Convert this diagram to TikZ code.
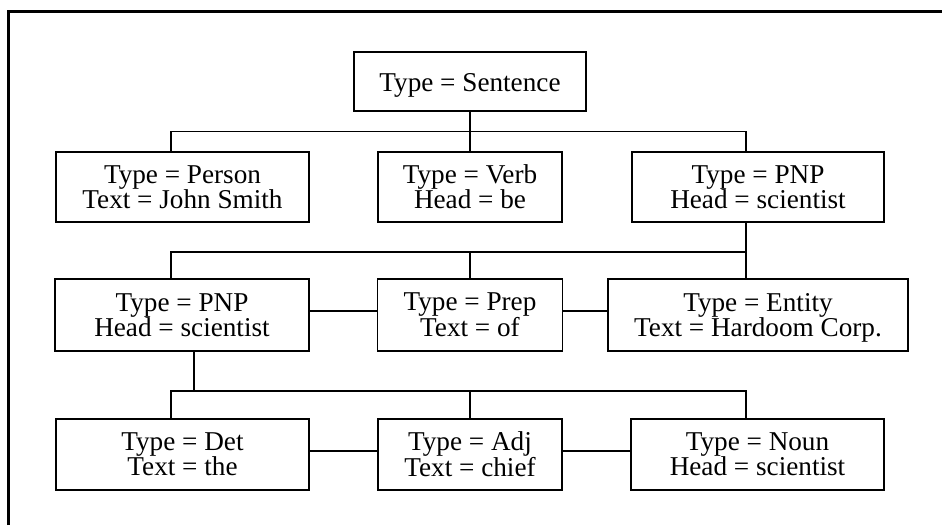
\documentclass[tikz,border=0pt]{standalone}
\usepackage{fontspec}
\setmainfont{Liberation Serif}
\usetikzlibrary{calc}

\begin{document}
\begin{tikzpicture}[x=1pt,y=-1pt,
  box/.style={draw, line width=1.8pt, rectangle, inner sep=0pt, align=center,
    text depth=0pt, font=\fontsize{27.2}{25}\selectfont},
  link/.style={line width=1.5pt},
  frame/.style={line width=2.6pt}]

\useasboundingbox (0,0) rectangle (942,525);

% partial outer frame (top and left edges)
\draw[frame] (8.7,525) -- (8.7,11.2) -- (942,11.2);

% root
\node[box, minimum width=232, minimum height=59] (S) at (470,81.5) {\raisebox{-2pt}{Type = Sentence}};

% second row
\node[box, minimum width=253, minimum height=70] (person) at (182.5,187) {Type = Person\\Text = John Smith};
\node[box, minimum width=184, minimum height=70] (verb) at (470,187) {Type = Verb\\Head = be};
\node[box, minimum width=252, minimum height=70] (pnpA) at (758,187) {Type = PNP\\Head = scientist};

% third row
\node[box, minimum width=254, minimum height=72] (pnpB) at (182,315) {Type = PNP\\Head = scientist};
\node[box, minimum width=185, minimum height=72] (prep) at (470,315) {Type = Prep\\Text = of};
\node[box, minimum width=300, minimum height=72] (entity) at (758,315) {Type = Entity\\Text = Hardoom Corp.};

% fourth row
\node[box, minimum width=253, minimum height=71] (det) at (182.5,454.5) {Type = Det\\Text = the};
\node[box, minimum width=184, minimum height=71] (adj) at (470,454.5) {Type = Adj\\Text = chief};
\node[box, minimum width=253, minimum height=71] (noun) at (757.5,454.5) {Type = Noun\\Head = scientist};

% bus lines
\coordinate (busA) at (470,131.5);
\coordinate (busB) at (746,252);
\coordinate (busC) at (470,391);

% root to second row
\draw[link] (S.south) -- (verb.north);
\draw[link] ([xshift=-11.5]person.north) |- (busA) -| ([xshift=-12]pnpA.north);

% second row to third row
\draw[link] ([xshift=-12]pnpA.south) -- ([xshift=-12]entity.north);
\draw[link] ([xshift=-11]pnpB.north) |- (busB);
\draw[link] (prep.north) -- (prep.north |- busB);

% third row siblings
\draw[link] ([yshift=4]pnpB.east) -- ([yshift=4]prep.west);
\draw[link] ([yshift=4]prep.east) -- ([yshift=4]entity.west);

% third row to fourth row
\draw[link] ([xshift=12]pnpB.south) -- ([xshift=12]pnpB.south |- busC);
\draw[link] ([xshift=-11.5]det.north) |- (busC) -| ([xshift=-11.5]noun.north);
\draw[link] (adj.north) -- (adj.north |- busC);

% fourth row siblings
\draw[link] ([yshift=3.5]det.east) -- ([yshift=3.5]adj.west);
\draw[link] ([yshift=3.5]adj.east) -- ([yshift=3.5]noun.west);

\end{tikzpicture}
\end{document}
